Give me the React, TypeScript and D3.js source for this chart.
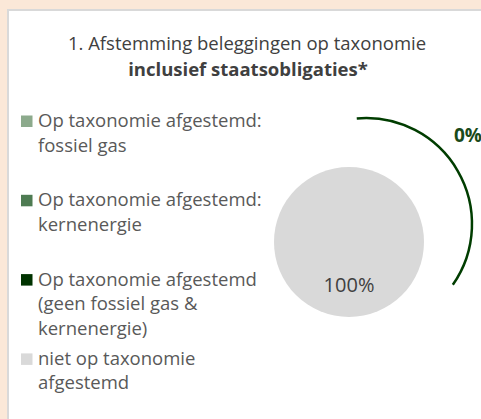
import * as d3 from "d3";

// categories and values
const categories = [
  "Op taxonomie afgestemd: fossiel gas",
  "Op taxonomie afgestemd: kernenergie",
  "Op taxonomie afgestemd (geen fossiel gas & kernenergie)",
  "niet op taxonomie afgestemd",
];
const values = [0, 0, 0, 100];
const legendLines = [
  ["Op taxonomie afgestemd:", "fossiel gas"],
  ["Op taxonomie afgestemd:", "kernenergie"],
  ["Op taxonomie afgestemd", "(geen fossiel gas &", "kernenergie)"],
  ["niet op taxonomie", "afgestemd"],
];
const colors = ["#8caa8c", "#4e7b52", "#003300", "#d9d9d9"];
const titleLines = ["1. Afstemming beleggingen op taxonomie", "inclusief staatsobligaties*"];
// index of the highlighted (0%) slice
const highlightIndex = 2;

const W = 481;
const H = 419;
const FONT = "'Open Sans', sans-serif";

const App = () => {
  const cx = 349;
  const cy = 242;
  const r = 75;

  const pie = d3
    .pie<number>()
    .sort(null)
    .value((d) => d);
  const slices = pie(values);

  const arc = d3.arc<d3.PieArcDatum<number>>().innerRadius(0).outerRadius(r);
  const labelArc = d3
    .arc<d3.PieArcDatum<number>>()
    .innerRadius(43)
    .outerRadius(43);

  // outline of the (empty) highlighted slice, drawn as an open arc
  const hl = slices[highlightIndex];
  const hlCx = cx + 17;
  const hlCy = cy - 18;
  const hlR = 106;
  const deg = Math.PI / 180;
  const p = d3.path();
  const a0 = hl.startAngle - 5 * deg - Math.PI / 2;
  const a1 = hl.startAngle + 125 * deg - Math.PI / 2;
  p.arc(hlCx, hlCy, hlR, a0, a1, false);

  const fmt = (v: number) => `${Math.round(v)}%`;
  const total = d3.sum(values);

  const legendX = 21;
  const legendTop = 127;
  const legendPitch = 79.3;
  const lineH = 24.5;

  return (
    <svg
      width={W}
      height={H}
      style={{ position: "absolute", left: 0, top: 0 }}
      fontFamily={FONT}
    >
      <rect x={0} y={0} width={W} height={H} fill="#fbe8d8" />
      <rect
        x={8}
        y={10}
        width={W + 20}
        height={H + 20}
        fill="#ffffff"
        stroke="#d9d9d9"
        strokeWidth={2}
      />

      <text
        x={247}
        y={50}
        textAnchor="middle"
        fontSize={18.5}
        fill="#404040"
      >
        {titleLines[0]}
      </text>
      <text
        x={248}
        y={76}
        textAnchor="middle"
        fontSize={18.5}
        fontWeight="bold"
        fill="#404040"
      >
        {titleLines[1]}
      </text>

      <g transform={`translate(${cx},${cy})`}>
        {slices.map((s, i) =>
          s.value > 0 ? (
            <path key={categories[i]} d={arc(s) || ""} fill={colors[i]} />
          ) : null
        )}
        {slices.map((s, i) => {
          if (s.value <= 0) return null;
          const [lx, ly] = labelArc.centroid(s);
          return (
            <text
              key={"l" + i}
              x={lx}
              y={ly}
              dy="0.35em"
              textAnchor="middle"
              fontSize={20}
              fill="#404040"
            >
              {fmt((s.value / total) * 100)}
            </text>
          );
        })}
      </g>

      <path
        d={p.toString()}
        fill="none"
        stroke="#003d00"
        strokeWidth={2.5}
      />
      <text
        x={454}
        y={142}
        fontSize={19}
        fontWeight="bold"
        fill="#1a4a1a"
      >
        {fmt(values[highlightIndex])}
      </text>

      {legendLines.map((lines, i) => {
        const y0 = legendTop + i * legendPitch;
        return (
          <g key={categories[i]}>
            <rect x={legendX} y={y0 - 11.5} width={11.5} height={11.5} fill={colors[i]} />
            {lines.map((t, j) => (
              <text
                key={j}
                x={38}
                y={y0 + j * lineH}
                fontSize={18.5}
                fill="#595959"
              >
                {t}
              </text>
            ))}
          </g>
        );
      })}
    </svg>
  );
};

export default App;
